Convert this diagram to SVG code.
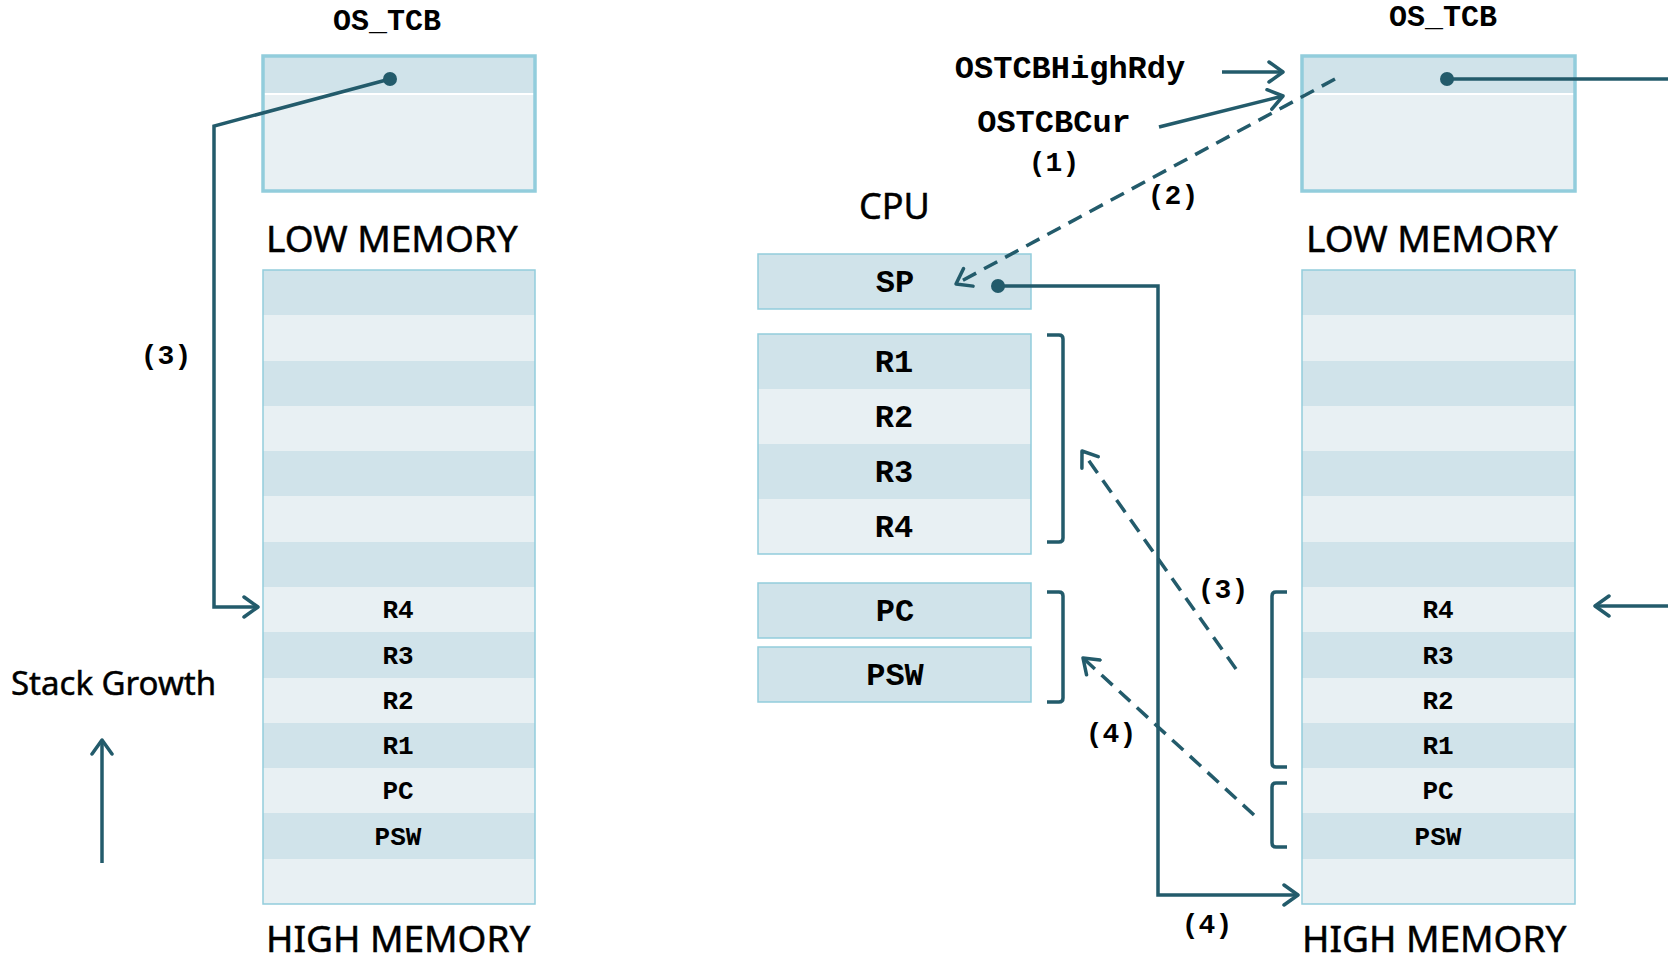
<svg xmlns="http://www.w3.org/2000/svg" width="1668" height="960" viewBox="0 0 1668 960">
<defs>
<style>
.dk{fill:#D0E3EA}
.lt{fill:#E8F0F3}
.tcb{fill:none;stroke:#92CDDC;stroke-width:3.5}
.thin{fill:none;stroke:#92CDDC;stroke-width:1.5}
.ln{fill:none;stroke:#235B6B;stroke-width:3.5}
.ds{fill:none;stroke:#235B6B;stroke-width:3.5;stroke-dasharray:15 9}
.dot{fill:#235B6B}
.mono{font-family:"Liberation Mono","Courier New",monospace;font-weight:bold;fill:#000;text-anchor:middle}
.sans{font-family:"Noto Sans","Open Sans",sans-serif;fill:#000;stroke:#000;stroke-width:0.5}
.bk{fill:none;stroke:#235B6B;stroke-width:3.5}
</style>
<marker id="ah" viewBox="-16 -12 20 24" refX="0" refY="0" markerWidth="20" markerHeight="24" markerUnits="userSpaceOnUse" orient="auto">
<path d="M -14 -10 L 0 0 L -14 10" fill="none" stroke="#235B6B" stroke-width="3.5" stroke-linecap="round" stroke-linejoin="round"/>
</marker>
</defs>
<rect width="1668" height="960" fill="#fff"/>

<g id="left-tcb">
<text class="mono" x="387" y="30" font-size="30">OS_TCB</text>
<rect class="lt" x="263" y="56" width="272" height="135"/>
<rect class="dk" x="263" y="56" width="272" height="38"/>
<line x1="263" y1="94" x2="535" y2="94" stroke="#fff" stroke-width="2"/>
<rect class="tcb" x="263" y="56" width="272" height="135"/>
</g>

<g id="left-stack">
<text class="sans" x="266" y="252" font-size="37">LOW MEMORY</text>
<rect class="dk" x="263" y="270" width="272" height="45"/>
<rect class="lt" x="263" y="315" width="272" height="46"/>
<rect class="dk" x="263" y="361" width="272" height="45"/>
<rect class="lt" x="263" y="406" width="272" height="45"/>
<rect class="dk" x="263" y="451" width="272" height="45"/>
<rect class="lt" x="263" y="496" width="272" height="46"/>
<rect class="dk" x="263" y="542" width="272" height="45"/>
<rect class="lt" x="263" y="587" width="272" height="45"/>
<rect class="dk" x="263" y="632" width="272" height="46"/>
<rect class="lt" x="263" y="678" width="272" height="45"/>
<rect class="dk" x="263" y="723" width="272" height="45"/>
<rect class="lt" x="263" y="768" width="272" height="45"/>
<rect class="dk" x="263" y="813" width="272" height="46"/>
<rect class="lt" x="263" y="859" width="272" height="45"/>
<rect class="thin" x="263" y="270" width="272" height="634"/>
<text class="mono" x="398" y="618" font-size="26">R4</text>
<text class="mono" x="398" y="664" font-size="26">R3</text>
<text class="mono" x="398" y="709" font-size="26">R2</text>
<text class="mono" x="398" y="754" font-size="26">R1</text>
<text class="mono" x="398" y="799" font-size="26">PC</text>
<text class="mono" x="398" y="845" font-size="26">PSW</text>
<text class="sans" x="266" y="952" font-size="37">HIGH MEMORY</text>
</g>

<g id="stack-growth">
<text class="sans" x="11" y="695" font-size="33">Stack Growth</text>
</g>

<g id="cpu">
<text class="sans" x="859" y="219" font-size="36">CPU</text>
<rect class="dk" x="758" y="254" width="273" height="55"/>
<rect class="thin" x="758" y="254" width="273" height="55"/>
<text class="mono" x="895" y="292" font-size="32">SP</text>
<rect class="dk" x="758" y="334" width="273" height="55"/>
<rect class="lt" x="758" y="389" width="273" height="55"/>
<rect class="dk" x="758" y="444" width="273" height="55"/>
<rect class="lt" x="758" y="499" width="273" height="55"/>
<rect class="thin" x="758" y="334" width="273" height="220"/>
<text class="mono" x="894" y="372" font-size="32">R1</text>
<text class="mono" x="894" y="427" font-size="32">R2</text>
<text class="mono" x="894" y="482" font-size="32">R3</text>
<text class="mono" x="894" y="537" font-size="32">R4</text>
<rect class="dk" x="758" y="583" width="273" height="55"/>
<rect class="thin" x="758" y="583" width="273" height="55"/>
<text class="mono" x="895" y="621" font-size="32">PC</text>
<rect class="dk" x="758" y="647" width="273" height="55"/>
<rect class="thin" x="758" y="647" width="273" height="55"/>
<text class="mono" x="895" y="685" font-size="32">PSW</text>
<path class="bk" d="M1047 335 L1059 335 Q1063 335 1063 339 L1063 538 Q1063 542 1059 542 L1047 542"/>
<path class="bk" d="M1047 592 L1059 592 Q1063 592 1063 596 L1063 698 Q1063 702 1059 702 L1047 702"/>
</g>

<g id="pointers">
<text class="mono" x="1070" y="78" font-size="32">OSTCBHighRdy</text>
<text class="mono" x="1054" y="132" font-size="32">OSTCBCur</text>
</g>

<g id="right-tcb">
<text class="mono" x="1443" y="26" font-size="30">OS_TCB</text>
<rect class="lt" x="1302" y="56" width="273" height="135"/>
<rect class="dk" x="1302" y="56" width="273" height="38"/>
<line x1="1302" y1="94" x2="1575" y2="94" stroke="#fff" stroke-width="2"/>
<rect class="tcb" x="1302" y="56" width="273" height="135"/>
</g>

<g id="right-stack">
<text class="sans" x="1306" y="252" font-size="37">LOW MEMORY</text>
<rect class="dk" x="1302" y="270" width="273" height="45"/>
<rect class="lt" x="1302" y="315" width="273" height="46"/>
<rect class="dk" x="1302" y="361" width="273" height="45"/>
<rect class="lt" x="1302" y="406" width="273" height="45"/>
<rect class="dk" x="1302" y="451" width="273" height="45"/>
<rect class="lt" x="1302" y="496" width="273" height="46"/>
<rect class="dk" x="1302" y="542" width="273" height="45"/>
<rect class="lt" x="1302" y="587" width="273" height="45"/>
<rect class="dk" x="1302" y="632" width="273" height="46"/>
<rect class="lt" x="1302" y="678" width="273" height="45"/>
<rect class="dk" x="1302" y="723" width="273" height="45"/>
<rect class="lt" x="1302" y="768" width="273" height="45"/>
<rect class="dk" x="1302" y="813" width="273" height="46"/>
<rect class="lt" x="1302" y="859" width="273" height="45"/>
<rect class="thin" x="1302" y="270" width="273" height="634"/>
<text class="mono" x="1438" y="618" font-size="26">R4</text>
<text class="mono" x="1438" y="664" font-size="26">R3</text>
<text class="mono" x="1438" y="709" font-size="26">R2</text>
<text class="mono" x="1438" y="754" font-size="26">R1</text>
<text class="mono" x="1438" y="799" font-size="26">PC</text>
<text class="mono" x="1438" y="845" font-size="26">PSW</text>
<path class="bk" d="M1287 592 L1276 592 Q1272 592 1272 596 L1272 763 Q1272 767 1276 767 L1287 767"/>
<path class="bk" d="M1287 783 L1276 783 Q1272 783 1272 787 L1272 843 Q1272 847 1276 847 L1287 847"/>
<text class="sans" x="1302" y="952" font-size="37">HIGH MEMORY</text>
</g>

<g id="connectors">
<polyline class="ln" points="390,79 214,126 214,607 258,607" marker-end="url(#ah)"/>
<circle class="dot" cx="390" cy="79" r="7"/>
<line class="ln" x1="102" y1="863" x2="102" y2="740" marker-end="url(#ah)"/>
<line class="ln" x1="1222" y1="72" x2="1283" y2="72" marker-end="url(#ah)"/>
<line class="ln" x1="1159" y1="127" x2="1283" y2="96" marker-end="url(#ah)"/>
<line class="ds" x1="1335" y1="79" x2="956" y2="284" marker-end="url(#ah)"/>
<polyline class="ln" points="998,286 1158,286 1158,895 1298,895" marker-end="url(#ah)"/>
<circle class="dot" cx="998" cy="286" r="7"/>
<line class="ds" x1="1236" y1="669" x2="1082" y2="451" marker-end="url(#ah)"/>
<line class="ds" x1="1254" y1="815" x2="1083" y2="658" marker-end="url(#ah)"/>
<line class="ln" x1="1447" y1="79" x2="1668" y2="79"/>
<circle class="dot" cx="1447" cy="79" r="7"/>
<line class="ln" x1="1668" y1="606" x2="1595" y2="606" marker-end="url(#ah)"/>
<text class="mono" x="166" y="364" font-size="28">(3)</text>
<text class="mono" x="1054" y="171" font-size="28">(1)</text>
<text class="mono" x="1173" y="204" font-size="28">(2)</text>
<text class="mono" x="1223" y="598" font-size="28">(3)</text>
<text class="mono" x="1111" y="742" font-size="28">(4)</text>
<text class="mono" x="1207" y="933" font-size="28">(4)</text>
</g>
</svg>
